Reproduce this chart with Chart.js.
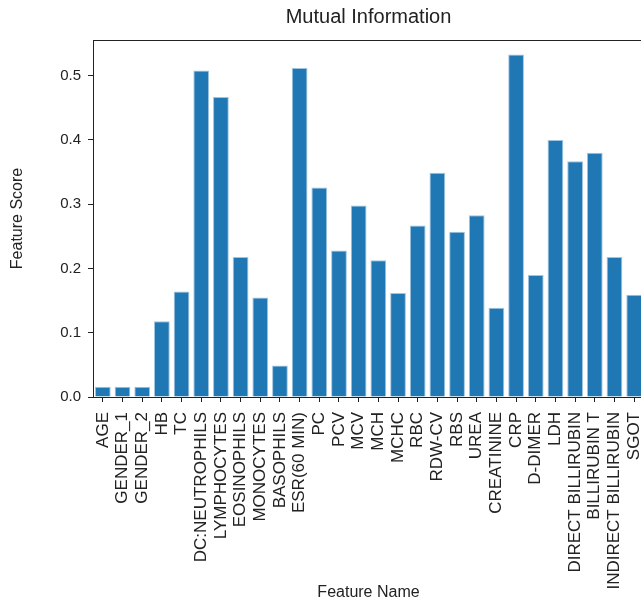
<!DOCTYPE html>
<html>
<head>
<meta charset="utf-8">
<script src="https://cdn.jsdelivr.net/npm/chart.js@4"></script>
<style>
  html, body { margin: 0; padding: 0; background: #fff; overflow: hidden; }
  #wrap { position: relative; width: 670px; height: 606px; }
</style>
</head>
<body>
<div id="wrap"><canvas id="miChart"></canvas></div>
<script>
const features = [
  'AGE', 'GENDER_1', 'GENDER_2', 'HB', 'TC', 'DC:NEUTROPHILS', 'LYMPHOCYTES',
  'EOSINOPHILS', 'MONOCYTES', 'BASOPHILS', 'ESR(60 MIN)', 'PC', 'PCV', 'MCV',
  'MCH', 'MCHC', 'RBC', 'RDW-CV', 'RBS', 'UREA', 'CREATININE', 'CRP', 'D-DIMER',
  'LDH', 'DIRECT BILLIRUBIN', 'BILLIRUBIN T', 'INDIRECT BILLIRUBIN', 'SGOT'
];
const scores = [
  0.016, 0.016, 0.016, 0.118, 0.164, 0.508, 0.467,
  0.218, 0.155, 0.049, 0.512, 0.326, 0.228, 0.298,
  0.213, 0.162, 0.267, 0.349, 0.257, 0.283, 0.139,
  0.533, 0.190, 0.400, 0.367, 0.380, 0.218, 0.159
];
const yTicks = [0.0, 0.1, 0.2, 0.3, 0.4, 0.5];

const FONT = '"Liberation Sans", Arial, sans-serif';
const INK = '#222';

// matplotlib-style frame around the plot area (right side falls off the page)
const frame = {
  id: 'frame',
  afterDatasetsDraw(chart) {
    const { ctx, chartArea: a } = chart;
    ctx.save();
    ctx.strokeStyle = INK;
    ctx.lineWidth = 1;
    ctx.strokeRect(Math.round(a.left) + 0.5, Math.round(a.top) + 0.5,
      Math.round(a.right - a.left), Math.round(a.bottom - a.top));
    ctx.restore();
  }
};

new Chart(document.getElementById('miChart'), {
  type: 'bar',
  data: {
    labels: features,
    datasets: [{
      label: 'Mutual Information',
      data: scores,
      backgroundColor: '#1f77b4',
      borderColor: '#9fc4e0',
      borderWidth: 1,
      barPercentage: 0.8,
      categoryPercentage: 1.0
    }]
  },
  options: {
    responsive: true,
    maintainAspectRatio: false,
    animation: false,
    layout: { padding: { left: 0, right: 26, top: 0, bottom: 0 } },
    plugins: {
      legend: { display: false },
      tooltip: { enabled: false },
      title: {
        display: true,
        text: 'Mutual Information',
        fullSize: false,
        color: INK,
        font: { family: FONT, size: 20, weight: 'normal', lineHeight: 1.2 },
        padding: { top: 5, bottom: 11 }
      }
    },
    scales: {
      x: {
        offset: true,
        grid: {
          display: true, drawOnChartArea: false, drawTicks: true,
          tickLength: 5, color: INK, offset: false
        },
        border: { display: false },
        ticks: {
          autoSkip: false, maxRotation: 90, minRotation: 90,
          color: INK, padding: 10,
          font: { family: FONT, size: 17 }
        },
        title: {
          display: true, text: 'Feature Name', color: INK,
          font: { family: FONT, size: 16, lineHeight: 1.2 },
          padding: { top: 0, bottom: 3.4 }
        },
        afterFit(scale) { scale.height = 209; }
      },
      y: {
        min: 0,
        max: 0.5556,
        afterBuildTicks(scale) { scale.ticks = yTicks.map(v => ({ value: v })); },
        grid: {
          display: true, drawOnChartArea: false, drawTicks: true,
          tickLength: 5, color: INK
        },
        border: { display: false },
        ticks: {
          color: INK, padding: 7,
          font: { family: FONT, size: 15 },
          callback: v => v.toFixed(1)
        },
        title: {
          display: true, text: 'Feature Score', color: INK,
          font: { family: FONT, size: 16, lineHeight: 1.2 },
          padding: { top: 8.4, bottom: 0 }
        },
        afterFit(scale) { scale.width = 93; }
      }
    }
  },
  plugins: [frame]
});
</script>
</body>
</html>
